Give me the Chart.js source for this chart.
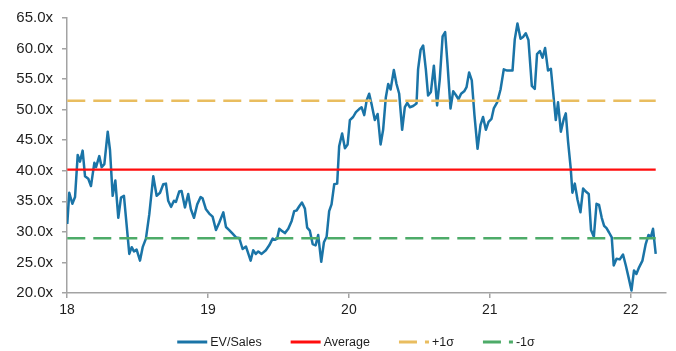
<!DOCTYPE html>
<html>
<head>
<meta charset="utf-8">
<script src="https://cdn.jsdelivr.net/npm/chart.js@4/dist/chart.umd.min.js"></script>
<style>
  html, body { margin: 0; padding: 0; background: #ffffff; }
  #wrap { width: 676px; height: 351px; }
</style>
</head>
<body>
<div id="wrap"><canvas id="chart" width="676" height="351"></canvas></div>
<script>
// Observation dates as fractional years (18 = start of 2018)
const dates = [
  18.002, 18.016, 18.038, 18.057, 18.076, 18.092, 18.111, 18.128, 18.151, 18.170,
  18.194, 18.206, 18.229, 18.246, 18.265, 18.289, 18.305, 18.324, 18.343, 18.364,
  18.383, 18.404, 18.442, 18.459, 18.475, 18.494, 18.518, 18.537, 18.560, 18.584,
  18.612, 18.636, 18.660, 18.683, 18.702, 18.718, 18.738, 18.759, 18.773, 18.796,
  18.813, 18.837, 18.860, 18.879, 18.901, 18.924, 18.948, 18.962, 18.986, 19.009,
  19.033, 19.057, 19.080, 19.109, 19.128, 19.151, 19.175, 19.199, 19.222, 19.246,
  19.270, 19.303, 19.321, 19.340, 19.357, 19.381, 19.411, 19.435, 19.459, 19.475,
  19.491, 19.506, 19.523, 19.546, 19.570, 19.594, 19.612, 19.629, 19.648, 19.667,
  19.688, 19.704, 19.723, 19.743, 19.764, 19.782, 19.804, 19.823, 19.842, 19.860,
  19.877, 19.896, 19.917, 19.931, 19.952, 19.972, 19.991, 20.007, 20.030, 20.050,
  20.073, 20.090, 20.109, 20.126, 20.144, 20.163, 20.184, 20.204, 20.225, 20.243,
  20.262, 20.279, 20.296, 20.319, 20.338, 20.357, 20.378, 20.397, 20.414, 20.433,
  20.456, 20.480, 20.491, 20.509, 20.527, 20.546, 20.562, 20.582, 20.603, 20.626,
  20.645, 20.665, 20.683, 20.700, 20.721, 20.740, 20.759, 20.778, 20.796, 20.818,
  20.835, 20.853, 20.872, 20.891, 20.913, 20.934, 20.952, 20.972, 20.991, 21.012,
  21.028, 21.052, 21.076, 21.099, 21.123, 21.161, 21.177, 21.196, 21.218, 21.236,
  21.255, 21.274, 21.298, 21.319, 21.335, 21.355, 21.374, 21.392, 21.413, 21.433,
  21.449, 21.468, 21.484, 21.504, 21.525, 21.539, 21.555, 21.574, 21.586, 21.603,
  21.622, 21.643, 21.662, 21.681, 21.702, 21.718, 21.738, 21.757, 21.775, 21.794,
  21.811, 21.828, 21.846, 21.865, 21.879, 21.899, 21.922, 21.945, 21.965, 21.984,
  22.005, 22.023, 22.040, 22.059, 22.083, 22.106, 22.126, 22.142, 22.158, 22.177
];

// EV/Sales multiple (x)
const evSales = [
  31.3, 36.4, 34.6, 35.7, 42.6, 41.5, 43.3, 39.1, 38.7, 37.5,
  41.3, 40.6, 42.4, 40.6, 41.1, 46.4, 43.4, 35.9, 38.4, 32.3,
  35.6, 35.9, 26.4, 27.5, 26.8, 27.1, 25.3, 27.5, 28.9, 32.9,
  39.1, 35.9, 36.4, 37.8, 37.9, 35.1, 34.1, 35.1, 34.9, 36.6,
  36.7, 34.0, 36.2, 33.7, 32.3, 34.5, 35.7, 35.5, 33.7, 33.0,
  32.5, 30.3, 31.5, 33.2, 30.8, 30.3, 29.7, 29.1, 29.0, 27.2,
  27.6, 25.3, 27.0, 26.4, 26.8, 26.4, 27.0, 27.8, 28.9, 28.7,
  28.9, 30.5, 30.2, 29.8, 30.5, 31.8, 33.4, 33.5, 34.2, 34.8,
  33.8, 30.7, 30.2, 28.0, 27.8, 29.5, 25.1, 28.3, 29.2, 33.4,
  34.5, 37.8, 37.9, 44.0, 46.1, 43.7, 44.3, 48.3, 48.8, 49.6,
  50.1, 50.4, 49.1, 51.5, 52.6, 50.7, 48.3, 49.3, 44.3, 46.7,
  52.0, 54.2, 53.3, 56.5, 54.2, 52.6, 46.7, 50.4, 51.1, 50.4,
  50.6, 51.0, 56.6, 59.8, 60.5, 56.6, 52.3, 52.9, 57.2, 50.7,
  55.0, 62.0, 62.7, 57.4, 50.2, 53.0, 52.4, 51.7, 52.6, 53.0,
  53.7, 56.1, 54.8, 49.1, 43.6, 47.5, 48.8, 46.7, 48.0, 48.5,
  50.2, 51.2, 53.3, 56.6, 56.4, 56.4, 61.5, 64.1, 61.6, 61.9,
  62.5, 61.4, 53.9, 53.4, 59.1, 59.6, 58.5, 60.1, 56.4, 56.7,
  52.9, 48.3, 51.2, 46.4, 48.5, 49.4, 44.8, 40.4, 36.4, 37.9,
  35.3, 33.2, 37.1, 36.6, 36.2, 30.3, 29.2, 34.6, 34.4, 32.3,
  31.0, 30.6, 29.9, 29.1, 24.5, 25.6, 25.5, 26.3, 24.5, 22.6,
  20.4, 23.7, 23.1, 24.2, 25.3, 28.0, 29.5, 29.1, 30.5, 26.4
];

// Period average and one-standard-deviation bands
const average = [40.2];
const plusOneSigma = [51.45];
const minusOneSigma = [28.95];

// Axis ticks
const yearTicks = [18, 19, 20, 21, 22];
const seriesNames = ['EV/Sales', 'Average', '+1\u03c3', '-1\u03c3'];

const FONT = "'Liberation Sans', Arial, sans-serif";
const AXIS_GREY = '#a3a3a3';
const TEXT = '#1e1e1e';

const seriesPoints = dates.map((d, i) => ({ x: d, y: evSales[i] }));
const flatLine = (level) => [
  { x: dates[0], y: level },
  { x: dates[dates.length - 1], y: level }
];

// Legend drawn as line samples: solid or dashed, centred under the plot
const lineLegend = {
  id: 'lineLegend',
  afterDraw(chart) {
    const ctx = chart.ctx;
    const sets = chart.data.datasets;
    const sample = 30, gapText = 3, gapItem = 29, yMid = 342;
    ctx.save();
    ctx.font = "12.5px " + FONT;
    ctx.textBaseline = 'middle';
    const widths = sets.map(ds => sample + gapText + ctx.measureText(ds.label).width);
    const total = widths.reduce((a, b) => a + b, 0) + gapItem * (sets.length - 1);
    let x = 356 - total / 2;
    sets.forEach((ds, i) => {
      ctx.beginPath();
      ctx.setLineDash(ds.borderDash || []);
      ctx.lineDashOffset = 0;
      ctx.strokeStyle = ds.borderColor;
      ctx.lineWidth = 3;
      ctx.moveTo(x, yMid);
      ctx.lineTo(x + sample, yMid);
      ctx.stroke();
      ctx.setLineDash([]);
      ctx.fillStyle = TEXT;
      ctx.textAlign = 'left';
      ctx.fillText(ds.label, x + sample + gapText, yMid + 0.5);
      x += widths[i] + gapItem;
    });
    ctx.restore();
  }
};

new Chart(document.getElementById('chart'), {
  type: 'line',
  data: {
    datasets: [
      {
        label: seriesNames[0],
        data: seriesPoints,
        borderColor: '#1a74a7',
        borderWidth: 2.5,
        pointRadius: 0,
        tension: 0,
        borderJoinStyle: 'round',
        order: 1
      },
      {
        label: seriesNames[1],
        data: flatLine(average[0]),
        borderColor: '#ff0d0d',
        borderWidth: 2.2,
        pointRadius: 0,
        order: 0
      },
      {
        label: seriesNames[2],
        data: flatLine(plusOneSigma[0]),
        borderColor: '#e9bd5f',
        borderWidth: 2.5,
        borderDash: [18, 8],
        pointRadius: 0,
        order: 0
      },
      {
        label: seriesNames[3],
        data: flatLine(minusOneSigma[0]),
        borderColor: '#4dab68',
        borderWidth: 2.5,
        borderDash: [18, 8],
        pointRadius: 0,
        order: 0
      }
    ]
  },
  options: {
    responsive: false,
    animation: false,
    devicePixelRatio: 1,
    layout: { padding: { top: 15, right: 10, left: 0, bottom: 32 } },
    plugins: {
      legend: { display: false },
      tooltip: { enabled: false }
    },
    scales: {
      x: {
        type: 'linear',
        min: 18,
        max: 22.25,
        afterBuildTicks(scale) {
          scale.ticks = yearTicks.map(v => ({ value: v }));
        },
        afterFit(scale) { scale.height = 26; },
        ticks: {
          autoSkip: false,
          maxRotation: 0,
          padding: 4,
          color: TEXT,
          font: { family: FONT, size: 14 },
          callback: (v) => String(v)
        },
        grid: {
          drawOnChartArea: false,
          drawTicks: true,
          tickLength: 5,
          color: AXIS_GREY,
          lineWidth: 1.5
        },
        border: { display: true, color: AXIS_GREY, width: 1.5 }
      },
      y: {
        min: 20,
        max: 65,
        afterFit(scale) { scale.width = 67; },
        ticks: {
          stepSize: 5,
          padding: 9,
          color: TEXT,
          font: { family: FONT, size: 15 },
          callback: (v) => v.toFixed(1) + 'x'
        },
        grid: {
          drawOnChartArea: false,
          drawTicks: true,
          tickLength: 5,
          color: AXIS_GREY,
          lineWidth: 1.5
        },
        border: { display: true, color: AXIS_GREY, width: 1.5 }
      }
    }
  },
  plugins: [lineLegend]
});
</script>
</body>
</html>
